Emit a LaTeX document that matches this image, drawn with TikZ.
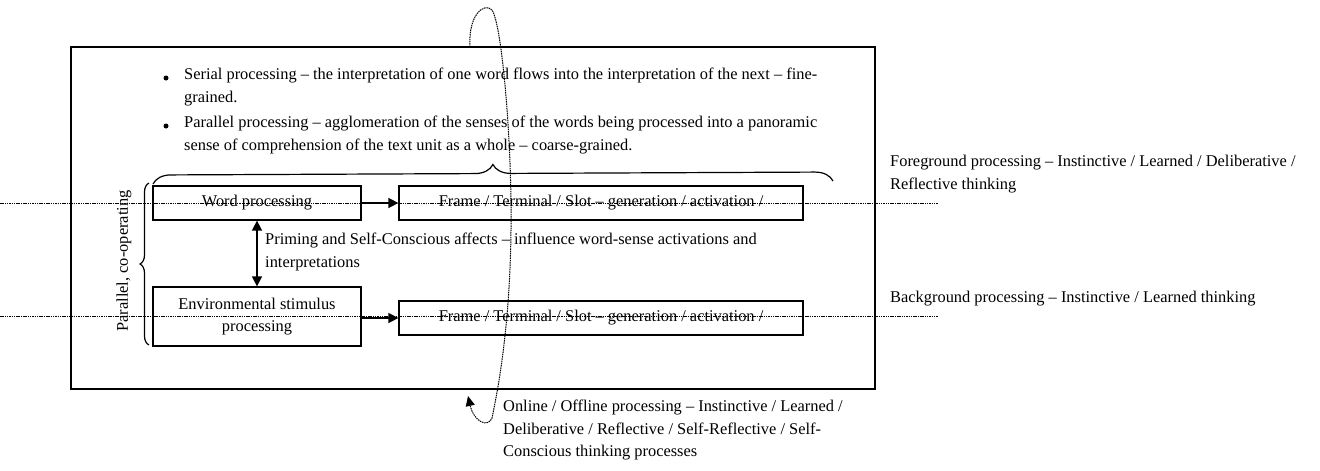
\documentclass[tikz,border=0pt]{standalone}
\usepackage{fontspec}
\setmainfont{Liberation Serif}
\usetikzlibrary{arrows.meta,decorations.pathreplacing}
\begin{document}
\begin{tikzpicture}[x=1pt,y=-1pt,font=\fontsize{16.4}{22.5}\selectfont,
  box/.style={draw,line width=1.3pt,minimum height=34pt,inner sep=0pt},
  dotline/.style={dash pattern=on 1.5pt off 0.8pt,line width=1pt},
  arr/.style={-{Triangle[length=10pt,width=10pt]},line width=1.6pt},
  dblarr/.style={{Triangle[length=10pt,width=10pt]}-{Triangle[length=10pt,width=10pt]},line width=1.6pt},
  dot/.style={circle,fill,inner sep=0pt,minimum size=5pt},
  txt/.style={anchor=north west,align=left,inner sep=0pt}]
\useasboundingbox (0,0) rectangle (1320,471);
% outer frame
\draw[line width=1.4pt] (71,47) rectangle (875,389);
% bullets
\node[dot] (b1) at (166,78) {};
\node[dot] (b2) at (166,126) {};
\node[txt] (t1) at (184,68) {Serial processing -- the interpretation of one word flows into the interpretation of the next -- fine-\\grained.};
\node[txt] (t2) at (184,116) {Parallel processing -- agglomeration of the senses of the words being processed into a panoramic\\sense of comprehension of the text unit as a whole -- coarse-grained.};
% braces
\draw[line width=1.2pt,decorate,decoration={brace,amplitude=18pt,aspect=0.5}] (153,184) -- (833,181);
\draw[line width=1.2pt,decorate,decoration={brace,amplitude=9pt}] (149,345) -- (149,183);
\node[rotate=90] (par) at (124,261) {Parallel, co-operating};
% boxes
\node[box,minimum width=208pt] (wp) at (257,203) {Word processing};
\node[box,minimum width=404pt] (f1) at (601,203) {Frame / Terminal / Slot -- generation / activation /};
\node[box,minimum width=208pt,minimum height=59pt,align=center] (env) at (257,316.5) {Environmental stimulus\\processing};
\node[box,minimum width=404pt] (f2) at (601,318) {Frame / Terminal / Slot -- generation / activation /};
\draw[arr] (wp) -- (f1);
\draw[arr] (env.east|-f2.west) -- (f2.west);
\draw[dblarr] (wp.south) -- (env.north);
\node[txt] (prim) at (265,233) {Priming and Self-Conscious affects -- influence word-sense activations and\\interpretations};
% dotted levels
\coordinate (l1a) at (0,203); \coordinate (l1b) at (938,203);
\coordinate (l2a) at (0,316); \coordinate (l2b) at (938,316);
\draw[dotline] (l1a) -- (l1b);
\draw[dotline] (l2a) -- (l2b);
\node[txt] (fg) at (890,155) {Foreground processing -- Instinctive / Learned / Deliberative /\\Reflective thinking};
\node[txt] (bg) at (890,291) {Background processing -- Instinctive / Learned thinking};
% loop
\coordinate (ls) at (470,47);
\coordinate (le) at (468,396);
\draw[dotline,-{Triangle[length=10pt,width=9pt]}] (ls) .. controls (468,15) and (484,2) .. (492,10)
  .. controls (502,25) and (512,140) .. (511,230)
  .. controls (510,320) and (500,380) .. (492,418)
  .. controls (488,428) and (474,422) .. (le);
\node[txt] (onl) at (503,400) {Online / Offline processing -- Instinctive / Learned /\\Deliberative / Reflective / Self-Reflective / Self-\\Conscious thinking processes};
\end{tikzpicture}
\end{document}
